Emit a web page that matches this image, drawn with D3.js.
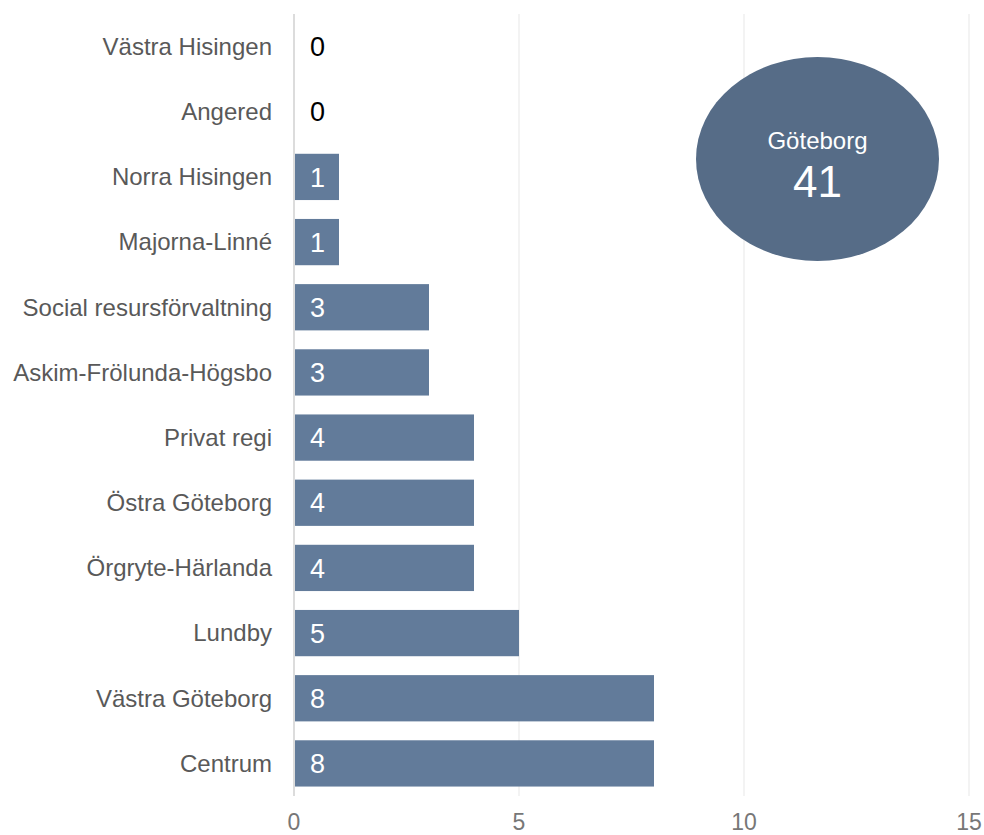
<!DOCTYPE html>
<html><head><meta charset="utf-8">
<script src="https://cdn.jsdelivr.net/npm/d3@7"></script>
<style>body{margin:0;background:#fff;}svg{display:block;font-family:"Liberation Sans",Arial,sans-serif;}</style>
</head><body>
<script>
const categories = ["Västra Hisingen","Angered","Norra Hisingen","Majorna-Linné","Social resursförvaltning","Askim-Frölunda-Högsbo","Privat regi","Östra Göteborg","Örgryte-Härlanda","Lundby","Västra Göteborg","Centrum"];
const values = [0,0,1,1,3,3,4,4,4,5,8,8];
const xTicks = [0,5,10,15];
const totalLabel = "Göteborg";
const totalValue = 41;

const W = 984, H = 835;
const svg = d3.select("body").append("svg").attr("width", W).attr("height", H);
const x = d3.scaleLinear().domain([0,15]).range([294,969]);
const y = d3.scaleBand().domain(categories).range([14,796]).paddingInner(0.29).paddingOuter(0.145);

// gridlines
svg.append("g").selectAll("line").data(xTicks.filter(d=>d>0)).join("line")
  .attr("x1",d=>x(d)).attr("x2",d=>x(d)).attr("y1",14).attr("y2",796)
  .attr("stroke","#ebebeb").attr("stroke-width",1.2);

// bars
svg.append("g").selectAll("rect").data(values).join("rect")
  .attr("x", x(0)+1).attr("y",(d,i)=>y(categories[i]))
  .attr("width", d=>Math.max(0,x(d)-x(0)-1)).attr("height", y.bandwidth())
  .attr("fill","#627b9a");

// axis line
svg.append("line").attr("x1",x(0)).attr("x2",x(0)).attr("y1",14).attr("y2",796)
  .attr("stroke","#d0d0d0").attr("stroke-width",1.5);

// category labels
svg.append("g").selectAll("text").data(categories).join("text")
  .attr("x",272).attr("y",d=>y(d)+y.bandwidth()/2).attr("dy","0.35em")
  .attr("text-anchor","end").attr("font-size",24).attr("fill","#595959")
  .text(d=>d);

// value labels
svg.append("g").selectAll("text").data(values).join("text")
  .attr("x",x(0)+16).attr("y",(d,i)=>y(categories[i])+y.bandwidth()/2).attr("dy","0.36em")
  .attr("font-size",27).attr("fill",d=>d>0?"#fff":"#000")
  .text(d=>d);

// x tick labels
svg.append("g").selectAll("text").data(xTicks).join("text")
  .attr("x",d=>x(d)).attr("y",822).attr("dy","0.35em").attr("text-anchor","middle")
  .attr("font-size",23).attr("fill","#777").text(d=>d);

// total ellipse
const g = svg.append("g");
g.append("ellipse").attr("cx",817.5).attr("cy",159).attr("rx",121.5).attr("ry",102).attr("fill","#566c87");
g.append("text").attr("x",817.5).attr("y",141).attr("dy","0.35em").attr("text-anchor","middle")
  .attr("font-size",24).attr("fill","#fff").text(totalLabel);
g.append("text").attr("x",817.5).attr("y",182).attr("dy","0.35em").attr("text-anchor","middle")
  .attr("font-size",44).attr("fill","#fff").text(totalValue);
</script>
</body></html>
